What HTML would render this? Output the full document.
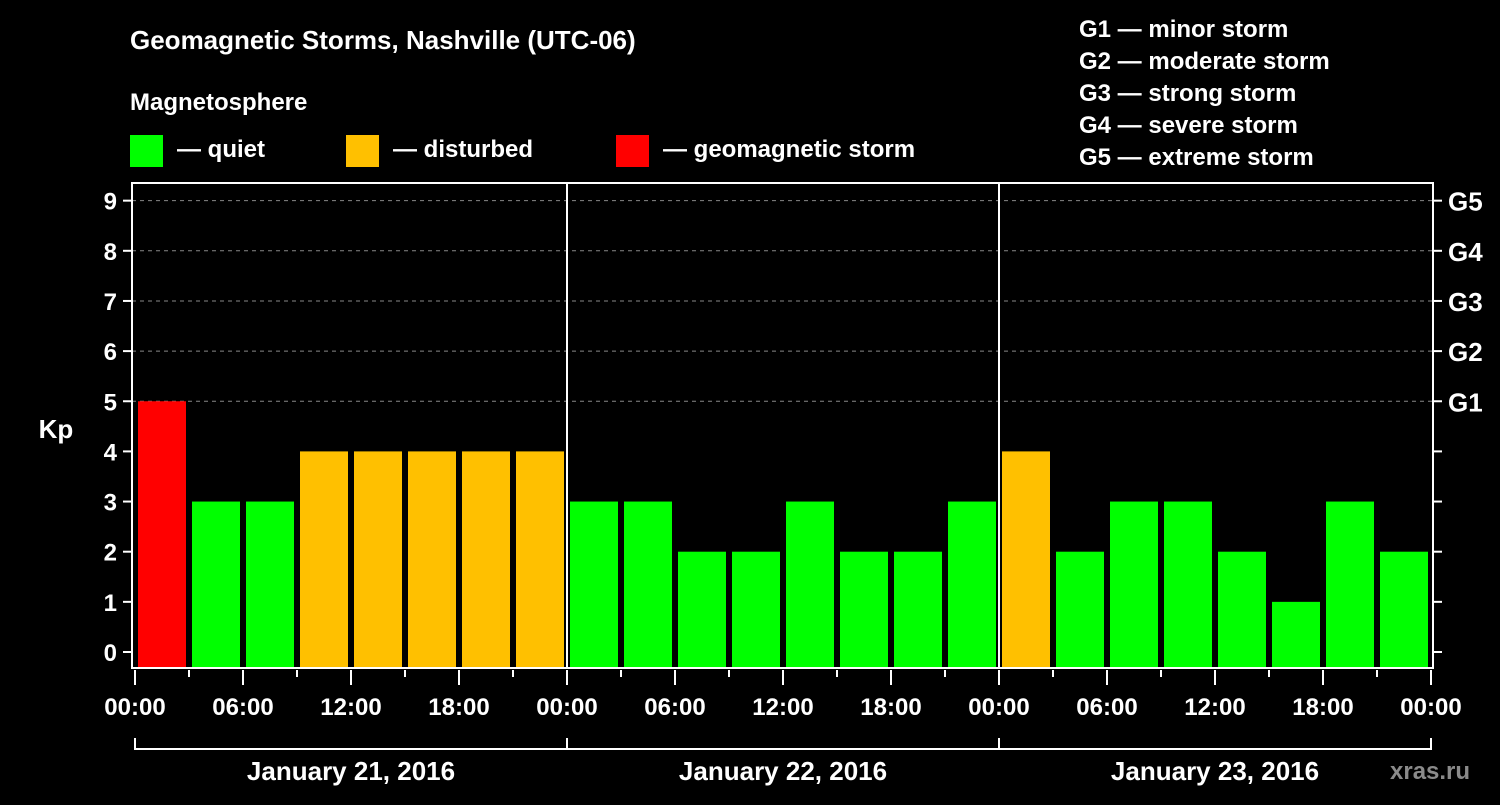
<!DOCTYPE html>
<html><head><meta charset="utf-8"><style>
body{margin:0;background:#000;width:1500px;height:800px;overflow:hidden;font-family:"Liberation Sans",Arial,sans-serif}
svg text{font-family:"Liberation Sans",Arial,sans-serif;font-weight:bold;fill:#fff}
</style></head><body>
<svg id="c" width="1500" height="800">
<text x="130" y="49" font-size="26">Geomagnetic Storms, Nashville (UTC-06)</text>
<text x="130" y="110" font-size="24">Magnetosphere</text>
<g><rect x="130" y="135" width="33" height="32" fill="#00ff00"/><text x="177" y="157" font-size="24">— quiet</text></g>
<g><rect x="346" y="135" width="33" height="32" fill="#ffc000"/><text x="393" y="157" font-size="24">— disturbed</text></g>
<g><rect x="616" y="135" width="33" height="32" fill="#ff0000"/><text x="663" y="157" font-size="24">— geomagnetic storm</text></g>
<g font-size="24">
<text x="1079" y="37">G1 — minor storm</text>
<text x="1079" y="69">G2 — moderate storm</text>
<text x="1079" y="101">G3 — strong storm</text>
<text x="1079" y="133">G4 — severe storm</text>
<text x="1079" y="165">G5 — extreme storm</text>
</g>
<text x="56" y="438" font-size="26" text-anchor="middle">Kp</text>
<text x="1390" y="779" font-size="24" fill="#888" style="fill:#8a8a8a">xras.ru</text>
<g id="plot"></g>
</svg>
<script>
const kpValues=[5,3,3,4,4,4,4,4, 3,3,2,2,3,2,2,3, 4,2,3,3,2,1,3,2];
const dayLabels=["January 21, 2016","January 22, 2016","January 23, 2016"];
const hourLabels=["00:00","06:00","12:00","18:00"];
const gLabels=["G1","G2","G3","G4","G5"];
const X0=135,SLOT=54,Y0=652,UNIT=50.15,LEFT=132,RIGHT=1433,TOP=183,BOT=668;
const NS="http://www.w3.org/2000/svg";
const g=document.getElementById('plot');
function el(t,a){const e=document.createElementNS(NS,t);for(const k in a)e.setAttribute(k,a[k]);g.appendChild(e);return e;}
const y=v=>Y0-v*UNIT, x=i=>X0+i*SLOT;
// grid
for(let v=5;v<=9;v++){const l=el('line',{x1:LEFT,x2:RIGHT,y1:y(v),y2:y(v),stroke:'#888','stroke-dasharray':'4 4','stroke-width':1});

}
// bars
kpValues.forEach((v,i)=>{const c=v>=5?'#ff0000':v>=4?'#ffc000':'#00ff00';
const r=el('rect',{x:x(i)+3,y:y(v),width:48,height:BOT-y(v),fill:c});

});
// axes frame
const fr=el('rect',{x:LEFT,y:TOP,width:RIGHT-LEFT,height:BOT-TOP,fill:'none',stroke:'#fff','stroke-width':2});


[1,2].forEach(d=>{const l=el('line',{x1:x(d*8),x2:x(d*8),y1:TOP,y2:BOT,stroke:'#fff','stroke-width':2});

});
// y ticks
for(let v=0;v<=9;v++){el('line',{x1:LEFT-9,x2:LEFT,y1:y(v),y2:y(v),stroke:'#fff','stroke-width':2});
el('line',{x1:RIGHT,x2:RIGHT+9,y1:y(v),y2:y(v),stroke:'#fff','stroke-width':2});
const t=el('text',{x:117,y:y(v)+9,'font-size':24,'text-anchor':'end'});t.textContent=v;

}
gLabels.forEach((s,i)=>{const t=el('text',{x:1448,y:y(5+i)+10,'font-size':26});t.textContent=s;

});
// x ticks
for(let i=0;i<=24;i++){const major=i%2==0;
el('line',{x1:x(i),x2:x(i),y1:BOT+2,y2:major?685:677,stroke:'#fff','stroke-width':2});
if(major){const t=el('text',{x:x(i),y:715,'font-size':24,'text-anchor':'middle'});t.textContent=hourLabels[(i/2)%4];

}}
// day brackets
dayLabels.forEach((s,d)=>{const a=x(d*8),b=x(d*8+8);
el('path',{d:`M${a} 738 V749 H${b} V738`,fill:'none',stroke:'#fff','stroke-width':2});
const t=el('text',{x:(a+b)/2,y:780,'font-size':26,'text-anchor':'middle'});t.textContent=s;

});
</script>
</body></html>
